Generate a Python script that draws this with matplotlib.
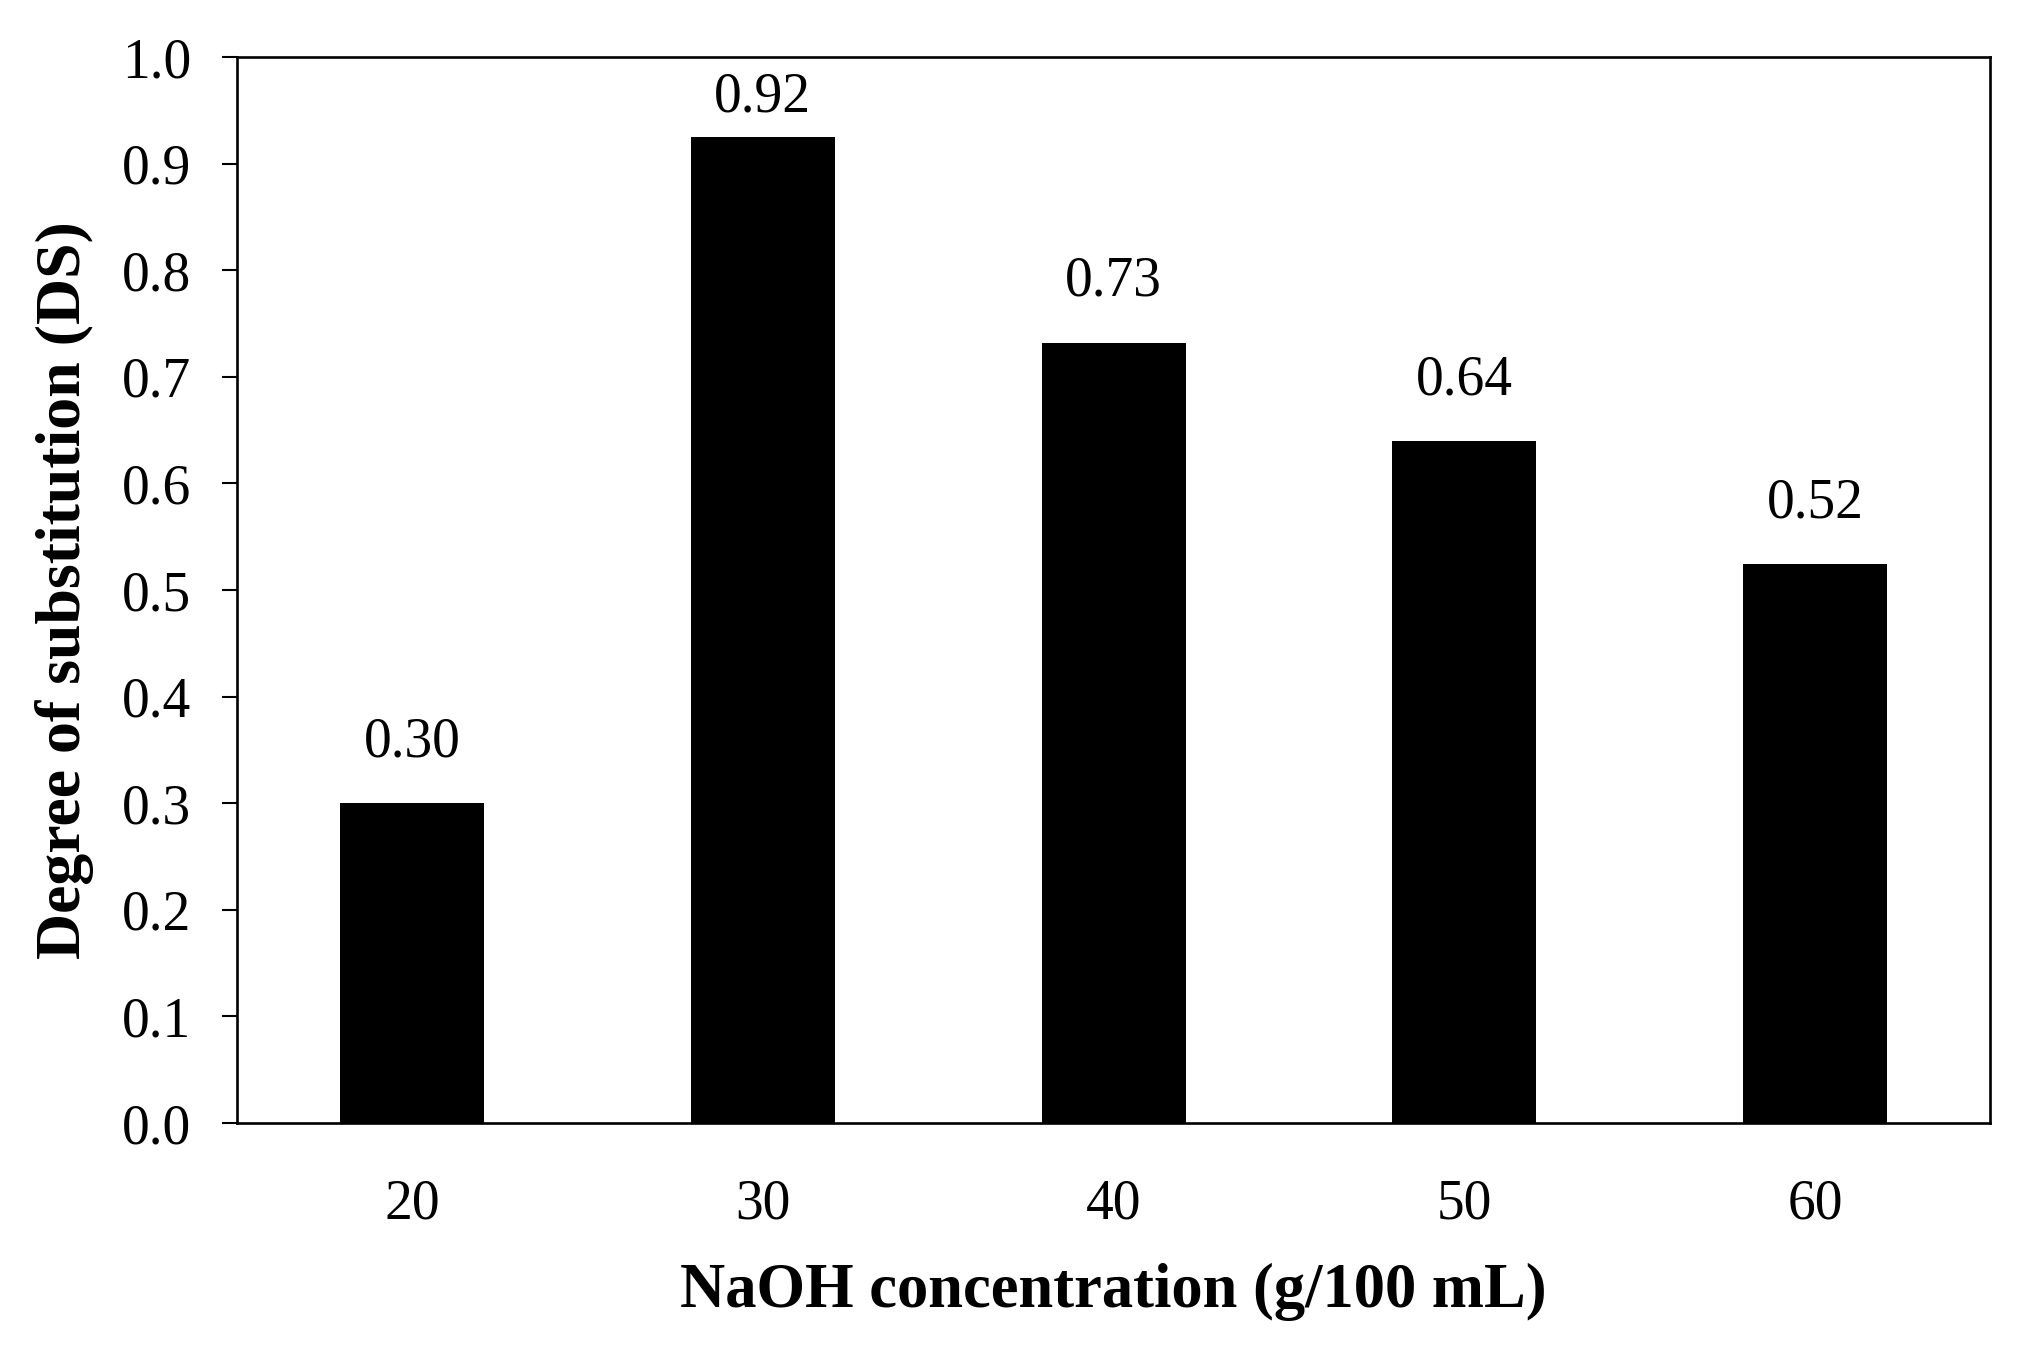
import matplotlib
matplotlib.use("Agg")
import matplotlib.pyplot as plt

categories = ["20", "30", "40", "50", "60"]
values = [0.300, 0.925, 0.732, 0.640, 0.524]
value_labels = ["0.30", "0.92", "0.73", "0.64", "0.52"]
yticks = [0.0, 0.1, 0.2, 0.3, 0.4, 0.5, 0.6, 0.7, 0.8, 0.9, 1.0]

plt.rcParams['font.family'] = ['Liberation Serif', 'DejaVu Serif']

fig = plt.figure(figsize=(20.29, 13.51), dpi=100)
left, right, bottom, top = 0.1167, 0.981, 0.1687, 0.9578
ax = fig.add_axes([left, bottom, right - left, top - bottom])

x = list(range(len(categories)))
ax.bar(x, values, width=0.41, color='black')
for xi, v, lab in zip(x, values, value_labels):
    ypos = min(v + 0.057, 0.962)
    ax.text(xi, ypos, lab, ha='center', va='center', fontsize=40)

ax.set_xlim(-0.5, 4.5)
ax.set_ylim(0, 1.0)
ax.set_yticks(yticks)
ax.set_yticklabels([f"{t:.1f}" for t in yticks])
ax.set_xticks(x)
ax.set_xticklabels(categories)
ax.tick_params(axis='y', direction='out', length=11, width=1.5, labelsize=40, pad=22)
ax.tick_params(axis='x', length=0, labelsize=40, pad=40)
for sp in ax.spines.values():
    sp.set_linewidth(1.9)

ax.set_xlabel("NaOH concentration (g/100 mL)", fontsize=45, fontweight='bold', labelpad=23)
ax.set_ylabel("Degree of substitution (DS)", fontsize=46, fontweight='bold', labelpad=20)

fig.savefig("out.png", dpi=100)
